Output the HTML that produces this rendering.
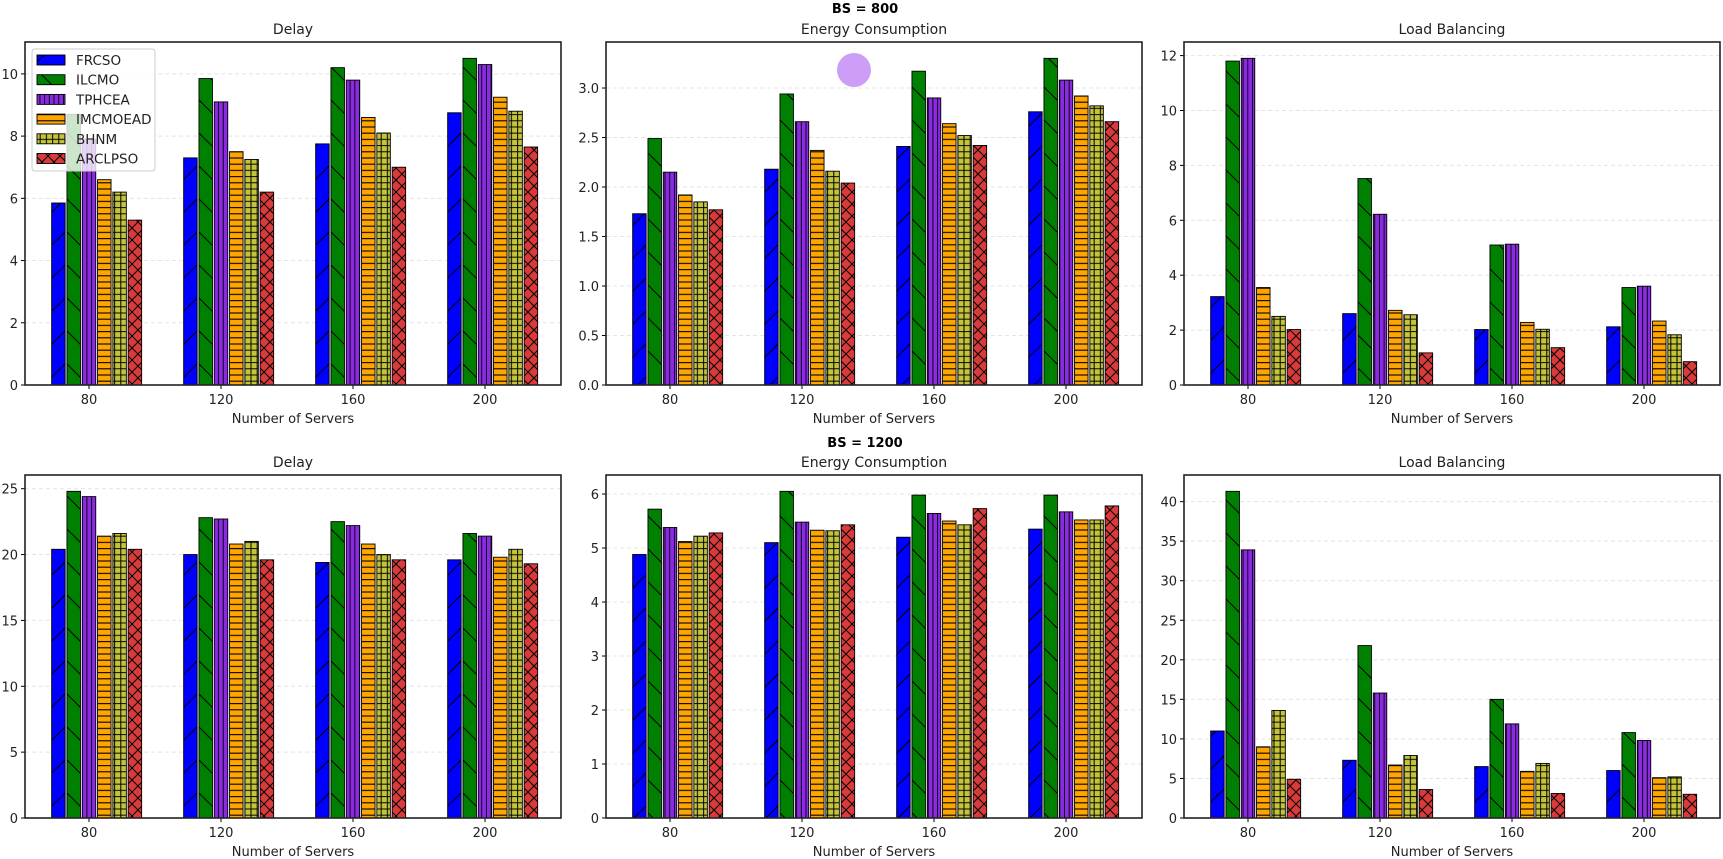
<!DOCTYPE html>
<html><head><meta charset="utf-8">
<style>
html,body{margin:0;padding:0;background:#fff;}
svg{display:block;font-family:"DejaVu Sans","Liberation Sans",sans-serif;}
</style></head>
<body>
<svg id="fig" width="1723" height="859" viewBox="0 0 1723 859" xmlns="http://www.w3.org/2000/svg">
<defs>
<pattern id="h-slash" patternUnits="userSpaceOnUse" width="33" height="33"><path d="M0,33 L33,0 M-5,5 L5,-5 M28,38 L38,28" stroke="#000" stroke-width="1"/></pattern>
<pattern id="h-back" patternUnits="userSpaceOnUse" width="33" height="33"><path d="M0,0 L33,33 M-5,28 L5,38 M28,-5 L38,5" stroke="#000" stroke-width="1"/></pattern>
<pattern id="h-vert" patternUnits="userSpaceOnUse" width="4.7" height="10"><path d="M2.3,0 L2.3,10" stroke="#000" stroke-width="0.9"/></pattern>
<pattern id="h-horiz" patternUnits="userSpaceOnUse" width="10" height="6.2"><path d="M0,3 L10,3" stroke="#000" stroke-width="1.1"/></pattern>
<pattern id="h-plus" patternUnits="userSpaceOnUse" width="6.2" height="6.2"><path d="M0,3 L6.2,3 M3,0 L3,6.2" stroke="#000" stroke-width="1"/></pattern>
<pattern id="h-x" patternUnits="userSpaceOnUse" width="12" height="12"><path d="M0,0 L12,12 M0,12 L12,0" stroke="#000" stroke-width="1"/></pattern>
</defs>
<text x="865" y="13" text-anchor="middle" font-size="13" font-weight="bold">BS = 800</text>
<text x="865" y="447" text-anchor="middle" font-size="13" font-weight="bold">BS = 1200</text>
</svg>
<script>
const methods = ["FRCSO","ILCMO","TPHCEA","IMCMOEAD","BHNM","ARCLPSO"];
const categories = ["80","120","160","200"];

const delay800FRCSO = [5.85, 7.3, 7.75, 8.75];
const delay800ILCMO = [8.7, 9.85, 10.2, 10.5];
const delay800TPHCEA = [7.9, 9.1, 9.8, 10.3];
const delay800IMCMOEAD = [6.6, 7.5, 8.6, 9.25];
const delay800BHNM = [6.2, 7.25, 8.1, 8.8];
const delay800ARCLPSO = [5.3, 6.2, 7.0, 7.65];

const energy800FRCSO = [1.73, 2.18, 2.41, 2.76];
const energy800ILCMO = [2.49, 2.94, 3.17, 3.3];
const energy800TPHCEA = [2.15, 2.66, 2.9, 3.08];
const energy800IMCMOEAD = [1.92, 2.37, 2.64, 2.92];
const energy800BHNM = [1.85, 2.16, 2.52, 2.82];
const energy800ARCLPSO = [1.77, 2.04, 2.42, 2.66];

const load800FRCSO = [3.22, 2.6, 2.02, 2.12];
const load800ILCMO = [11.8, 7.52, 5.1, 3.55];
const load800TPHCEA = [11.9, 6.22, 5.13, 3.6];
const load800IMCMOEAD = [3.55, 2.72, 2.28, 2.33];
const load800BHNM = [2.5, 2.56, 2.03, 1.83];
const load800ARCLPSO = [2.02, 1.17, 1.36, 0.85];

const delay1200FRCSO = [20.4, 20.0, 19.4, 19.6];
const delay1200ILCMO = [24.8, 22.8, 22.5, 21.6];
const delay1200TPHCEA = [24.4, 22.7, 22.2, 21.4];
const delay1200IMCMOEAD = [21.4, 20.8, 20.8, 19.8];
const delay1200BHNM = [21.6, 21.0, 20.0, 20.4];
const delay1200ARCLPSO = [20.4, 19.6, 19.6, 19.3];

const energy1200FRCSO = [4.88, 5.1, 5.2, 5.35];
const energy1200ILCMO = [5.72, 6.05, 5.98, 5.98];
const energy1200TPHCEA = [5.38, 5.48, 5.64, 5.67];
const energy1200IMCMOEAD = [5.12, 5.33, 5.5, 5.52];
const energy1200BHNM = [5.22, 5.32, 5.43, 5.52];
const energy1200ARCLPSO = [5.28, 5.43, 5.73, 5.78];

const load1200FRCSO = [11.0, 7.3, 6.5, 6.0];
const load1200ILCMO = [41.3, 21.8, 15.0, 10.8];
const load1200TPHCEA = [33.9, 15.8, 11.9, 9.8];
const load1200IMCMOEAD = [9.0, 6.7, 5.9, 5.1];
const load1200BHNM = [13.6, 7.9, 6.9, 5.2];
const load1200ARCLPSO = [4.9, 3.6, 3.1, 3.0];

const ticksDelay800 = [0, 2, 4, 6, 8, 10];
const ticksEnergy800 = [0, 0.5, 1.0, 1.5, 2.0, 2.5, 3.0];
const ticksLoad800 = [0, 2, 4, 6, 8, 10, 12];
const ticksDelay1200 = [0, 5, 10, 15, 20, 25];
const ticksEnergy1200 = [0, 1, 2, 3, 4, 5, 6];
const ticksLoad1200 = [0, 5, 10, 15, 20, 25, 30, 35, 40];

const colors = ["#0000ff","#008000","#8a2be2","#ffa500","#c4c43a","#d93a3a"];
const hatches = ["h-slash","h-back","h-vert","h-horiz","h-plus","h-x"];

const NS = "http://www.w3.org/2000/svg";
const fig = document.getElementById("fig");
function mk(tag, attrs, parent) {
  const e = document.createElementNS(NS, tag);
  for (const k in attrs) e.setAttribute(k, attrs[k]);
  (parent || fig).appendChild(e);
  return e;
}

function drawPanel(p) {
  const g = mk("g", {});
  
  
  const L = p.x, R = p.x + 536, T = p.y, B = p.y + 343;
  const maxV = Math.max(...p.series.flat());
  const ymax = maxV * 1.05;
  const yS = v => B - v / ymax * (B - T);
  const slot = 15.3, gsp = 132;
  const xS = i => L + 64 + i * gsp;
  // grid and y ticks
  p.ticks.forEach(t => {
    const y = yS(t);
    const gl = mk("line", {x1: L, x2: R, y1: y, y2: y, stroke: "#e4e4e4", "stroke-width": 1, "stroke-dasharray": "4,3"}, g);
    
    
    mk("line", {x1: L - 4, x2: L, y1: y, y2: y, stroke: "#000", "stroke-width": 1}, g);
    const tl = mk("text", {x: L - 7, y: y + 5, "text-anchor": "end", "font-size": 13, fill: "#222"}, g);
    
    
    tl.textContent = p.fmt(t);
  });
  // bars
  p.series.forEach((arr, k) => {
    arr.forEach((v, i) => {
      const x0 = xS(i) + (k - 2.5) * slot + 0.9;
      const w = slot - 1.8;
      const y = yS(v);
      const bar = mk("rect", {x: x0, y: y, width: w, height: B - y, fill: colors[k]}, g);
      
      
      mk("rect", {x: x0, y: y, width: w, height: B - y, fill: "url(#" + hatches[k] + ")"}, g);
      mk("rect", {x: x0, y: y, width: w, height: B - y, fill: "none", stroke: "#000", "stroke-width": 0.9}, g);
    });
  });
  // x ticks
  categories.forEach((c, i) => {
    const x = xS(i);
    mk("line", {x1: x, x2: x, y1: B, y2: B + 4, stroke: "#000", "stroke-width": 1}, g);
    const tl = mk("text", {x: x, y: B + 19, "text-anchor": "middle", "font-size": 13, fill: "#222"}, g);
    
    
    tl.textContent = c;
  });
  const fr = mk("rect", {x: L, y: T, width: R - L, height: B - T, fill: "none", stroke: "#222", "stroke-width": 1.6}, g);
  
  
  const ti = mk("text", {x: (L + R) / 2, y: T - 8, "text-anchor": "middle", "font-size": 14, fill: "#222"}, g);
  
  
  ti.textContent = p.title;
  const xl = mk("text", {x: (L + R) / 2, y: B + 38, "text-anchor": "middle", "font-size": 13, fill: "#222"}, g);
  
  
  xl.textContent = "Number of Servers";
  return g;
}

const f0 = t => String(t);
const f1 = t => t.toFixed(1);
drawPanel({name: "delay-800-chart", x: 25, y: 42, title: "Delay", ticks: ticksDelay800, fmt: f0,
  series: [delay800FRCSO, delay800ILCMO, delay800TPHCEA, delay800IMCMOEAD, delay800BHNM, delay800ARCLPSO]});
drawPanel({name: "energy-800-chart", x: 606, y: 42, title: "Energy Consumption", ticks: ticksEnergy800, fmt: f1,
  series: [energy800FRCSO, energy800ILCMO, energy800TPHCEA, energy800IMCMOEAD, energy800BHNM, energy800ARCLPSO]});
drawPanel({name: "load-800-chart", x: 1184, y: 42, title: "Load Balancing", ticks: ticksLoad800, fmt: f0,
  series: [load800FRCSO, load800ILCMO, load800TPHCEA, load800IMCMOEAD, load800BHNM, load800ARCLPSO]});
drawPanel({name: "delay-1200-chart", x: 25, y: 475, title: "Delay", ticks: ticksDelay1200, fmt: f0,
  series: [delay1200FRCSO, delay1200ILCMO, delay1200TPHCEA, delay1200IMCMOEAD, delay1200BHNM, delay1200ARCLPSO]});
drawPanel({name: "energy-1200-chart", x: 606, y: 475, title: "Energy Consumption", ticks: ticksEnergy1200, fmt: f0,
  series: [energy1200FRCSO, energy1200ILCMO, energy1200TPHCEA, energy1200IMCMOEAD, energy1200BHNM, energy1200ARCLPSO]});
drawPanel({name: "load-1200-chart", x: 1184, y: 475, title: "Load Balancing", ticks: ticksLoad1200, fmt: f0,
  series: [load1200FRCSO, load1200ILCMO, load1200TPHCEA, load1200IMCMOEAD, load1200BHNM, load1200ARCLPSO]});

// decorative circle
const dot = mk("circle", {cx: 854, cy: 70, r: 17, fill: "#cc9ef5"});



// legend
const lg = mk("g", {});


mk("rect", {x: 32, y: 49, width: 123, height: 122, rx: 3, fill: "#fff", "fill-opacity": 0.8, stroke: "#ccc", "stroke-width": 1}, lg);
methods.forEach((m, k) => {
  const y = 55 + k * 19.7;
  const sw = mk("rect", {x: 37, y: y, width: 28, height: 10, fill: colors[k], stroke: "#000", "stroke-width": 0.9}, lg);
  
  
  mk("rect", {x: 37, y: y, width: 28, height: 10, fill: "url(#" + hatches[k] + ")"}, lg);
  const t = mk("text", {x: 76, y: y + 10, "font-size": 13.5, fill: "#222"}, lg);
  
  
  t.textContent = m;
});
</script>
</body></html>
